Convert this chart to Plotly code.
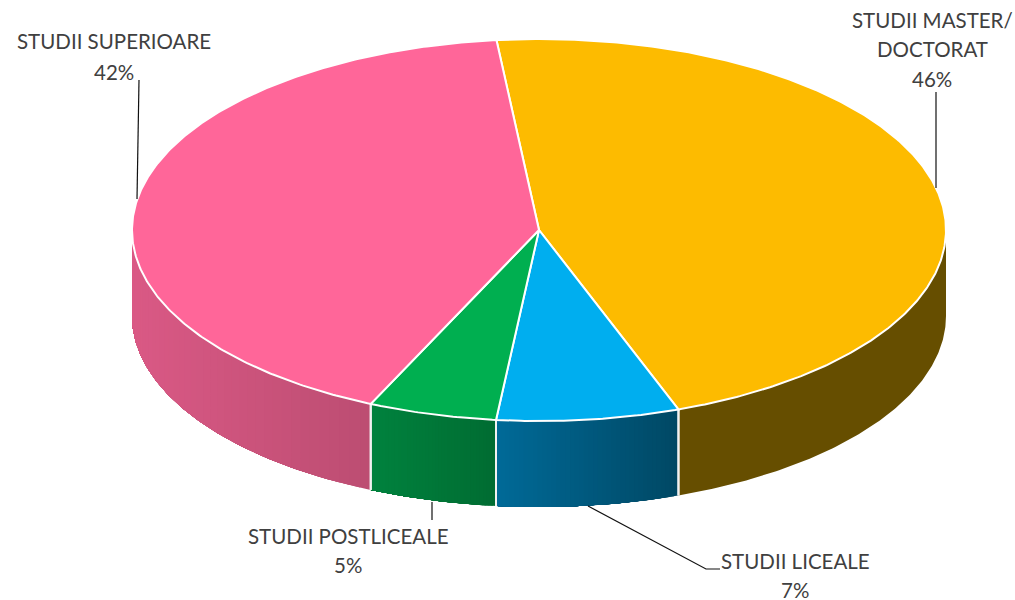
import math
import plotly.graph_objects as go

categories = ["STUDII MASTER/ DOCTORAT", "STUDII LICEALE", "STUDII POSTLICEALE", "STUDII SUPERIOARE"]
label_lines = [["STUDII MASTER/", "DOCTORAT"], ["STUDII LICEALE"], ["STUDII POSTLICEALE"], ["STUDII SUPERIOARE"]]
values = [46.1, 7.25, 5.1, 41.55]

top_colors = ["#FDBB00", "#00AEEF", "#00AF50", "#FF6699"]
wall_left = [(102, 78, 0), (0, 106, 152), (0, 130, 62), (218, 89, 133)]
wall_right = [(102, 78, 0), (0, 72, 100), (0, 108, 50), (188, 77, 114)]

# layout geometry (pixels)
W, H = 1015, 600
CX, CY, RX, RY, DEPTH = 539, 230, 407, 191, 86
START = -6.0
label_pos = [(932, [20, 49, 79]), (795, [561, 590]), (348, [536, 565]), (114, [41, 72])]
leaders = [([936, 936], [92, 188]), ([588, 706, 720], [506, 569, 569]),
           ([432, 432], [502, 520]), ([139, 137], [80, 199])]


def pt(deg, dy=0.0):
    r = math.radians(deg)
    return CX + RX * math.sin(r), CY - RY * math.cos(r) + dy


def arc(a, b, dy=0.0, step=0.5):
    n = max(2, int(abs(b - a) / step) + 1)
    return [pt(a + (b - a) * i / (n - 1), dy) for i in range(n)]


total = sum(values)
spans = []
a = START
for v in values:
    b = a + v / total * 360
    spans.append((a, b))
    a = b

fig = go.Figure()


def poly(points, fill, line_color=None, width=0):
    fig.add_trace(go.Scatter(
        x=[p[0] for p in points], y=[p[1] for p in points], mode="lines",
        fill="toself", fillcolor=fill,
        line=dict(color=line_color or fill, width=width),
        hoverinfo="skip", showlegend=False))


# side walls: each strip runs on to the slice's end and the next paints over it,
# so no hairline gaps appear between strips
for i, (a, b) in enumerate(spans):
    lo, hi = max(a, 90), min(b, 270)
    if lo >= hi:
        continue
    xs = [pt(lo)[0], pt(hi)[0]]
    xmin, xmax = min(xs), max(xs)
    n = 1 if wall_left[i] == wall_right[i] else 40
    for k in range(n):
        t0 = lo + (hi - lo) * k / n
        t1 = lo + (hi - lo) * (k + 1) / n
        xm = (pt(t0)[0] + pt(t1)[0]) / 2
        f = (xm - xmin) / max(1e-6, xmax - xmin)
        c = tuple(round(wall_left[i][j] + (wall_right[i][j] - wall_left[i][j]) * f) for j in range(3))
        col = "rgb(%d,%d,%d)" % c
        poly(arc(t0, hi, 0) + arc(hi, t0, DEPTH), col, col, 0)

# white seams on the wall
for (a, b) in spans:
    for t in (a, b):
        if 90 < t % 360 < 270:
            p = pt(t)
            fig.add_trace(go.Scatter(x=[p[0], p[0]], y=[p[1], p[1] + DEPTH], mode="lines",
                                     line=dict(color="#F2F2F2", width=2),
                                     hoverinfo="skip", showlegend=False))

# top faces
for i, (a, b) in enumerate(spans):
    poly([(CX, CY)] + arc(a, b) + [(CX, CY)], top_colors[i], "#FFFFFF", 2)

# leader lines
for xs, ys in leaders:
    fig.add_trace(go.Scatter(x=xs, y=ys, mode="lines", line=dict(color="#111111", width=1.2),
                             hoverinfo="skip", showlegend=False))

# labels
annotations = []
for i, v in enumerate(values):
    lines = label_lines[i] + ["%d%%" % round(v)]
    x, ys = label_pos[i]
    for txt, y in zip(lines, ys):
        annotations.append(dict(x=x, y=y, text=txt, showarrow=False, xanchor="center", yanchor="middle",
                                xref="x", yref="y", font=dict(family="Lato", size=20.5, color="#404040")))

fig.update_layout(
    width=W, height=H, margin=dict(l=0, r=0, t=0, b=0),
    paper_bgcolor="#FFFFFF", plot_bgcolor="#FFFFFF", showlegend=False,
    xaxis=dict(range=[0, W], visible=False, fixedrange=True),
    yaxis=dict(range=[H, 0], visible=False, fixedrange=True),
    annotations=annotations,
)
fig.write_html("out.html", config={"displayModeBar": False},
               post_script="document.body.style.margin='0';document.documentElement.style.overflow='hidden';")
